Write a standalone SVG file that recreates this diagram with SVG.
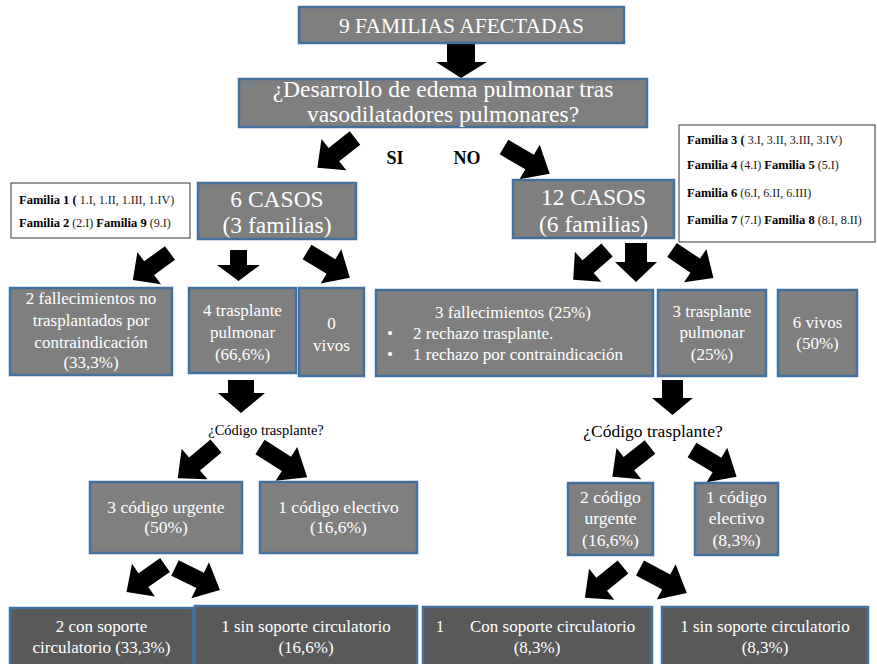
<svg xmlns="http://www.w3.org/2000/svg" xmlns:xlink="http://www.w3.org/1999/xlink" width="877" height="664" viewBox="0 0 877 664">
  <style>
    .box { fill: #7f7f7f; stroke: #41719c; stroke-width: 2.5; }
    .dark { fill: #595959; }
    .note { fill: #ffffff; stroke: #333333; stroke-width: 1; }
    text { font-family: 'Liberation Serif', 'DejaVu Serif', serif; }
    .t { fill: #ffffff; text-anchor: middle; }
    .t.s { text-anchor: start; }
    .k { fill: #000000; }
    .fam { fill: #1a1a1a; font-size: 12px; }
    .b { font-weight: bold; font-size: 12.5px; fill: #000000; }
    .arrow { fill: #000000; }
  </style>
  <defs>
    <!-- block arrow, tail centre at origin, tip at (50,0) -->
    <path id="da" d="M0,-8.5 H28 V-20 L50,0 L28,20 V8.5 H0 Z"/>
  </defs>

  <rect width="877" height="664" fill="#ffffff"/>

  <g id="connectors" class="arrow">
    <polygon points="447,44 475,44 475,62 487,62 461,78 436,62 447,62"/>
    <use xlink:href="#da" transform="translate(355,138) rotate(141.7) scale(0.96,1)"/>
    <use xlink:href="#da" transform="translate(504,147) rotate(30.4) scale(1.06,1)"/>
    <use xlink:href="#da" transform="translate(170,253) rotate(143.9) scale(0.92,1)"/>
    <polygon points="230,250 247,250 247,265 260,265 238.5,281 217,265 230,265"/>
    <use xlink:href="#da" transform="translate(307,252) rotate(31) scale(1,1)"/>
    <use xlink:href="#da" transform="translate(607,250) rotate(138.6) scale(0.9,1)"/>
    <polygon points="625,243 647,243 647,262 657,262 636,282 615,262 625,262"/>
    <use xlink:href="#da" transform="translate(672,250) rotate(34) scale(1,1)"/>
    <polygon points="228,380 254,380 254,393 265,393 241,413 218,393 228,393"/>
    <polygon points="662,380 683,380 683,398 693,398 672.5,415 652,398 662,398"/>
    <use xlink:href="#da" transform="translate(216,446) rotate(140) scale(1,1)"/>
    <use xlink:href="#da" transform="translate(260,447) rotate(32.6) scale(1.12,1)"/>
    <use xlink:href="#da" transform="translate(650,447) rotate(141.7) scale(0.96,1)"/>
    <use xlink:href="#da" transform="translate(692,450) rotate(31) scale(1.04,1)"/>
    <use xlink:href="#da" transform="translate(165,565) rotate(145) scale(0.94,1)"/>
    <use xlink:href="#da" transform="translate(175,568) rotate(26) scale(1,1)"/>
    <use xlink:href="#da" transform="translate(623,567) rotate(141) scale(0.98,1)"/>
    <use xlink:href="#da" transform="translate(640,568) rotate(28) scale(1.06,1)"/>
  </g>

  <g id="n-familias">
    <rect class="box" x="299" y="7" width="325" height="36"/>
    <text class="t" x="461.5" y="33" font-size="21.5">9 FAMILIAS AFECTADAS</text>
  </g>

  <g id="n-edema">
    <rect class="box" x="239" y="79" width="408" height="48"/>
    <text class="t" x="443" y="97" font-size="23.5">¿Desarrollo de edema pulmonar tras</text>
    <text class="t" x="443" y="122" font-size="23.5">vasodilatadores pulmonares?</text>
  </g>

  <g id="l-si-no" class="k" font-weight="bold" font-size="18" text-anchor="middle">
    <text x="395" y="164">SI</text>
    <text x="467" y="164">NO</text>
  </g>

  <g id="n-fam-si">
    <rect class="note" x="11" y="183" width="179" height="55"/>
    <text class="fam" x="19" y="204"><tspan class="b">Familia  1 (</tspan> 1.I,  1.II,  1.III,  1.IV)</text>
    <text class="fam" x="19" y="227"><tspan class="b">Familia  2</tspan> (2.I)  <tspan class="b">Familia  9</tspan> (9.I)</text>
  </g>

  <g id="n-6casos">
    <rect class="box" x="198" y="183" width="158" height="56"/>
    <text class="t" x="277" y="207" font-size="23.5">6 CASOS</text>
    <text class="t" x="277" y="233" font-size="23.5">(3 familias)</text>
  </g>

  <g id="n-12casos">
    <rect class="box" x="513" y="180" width="161" height="58"/>
    <text class="t" x="593.5" y="205" font-size="23.5">12 CASOS</text>
    <text class="t" x="593.5" y="232" font-size="23.5">(6 familias)</text>
  </g>

  <g id="n-fam-no">
    <rect class="note" x="679" y="125" width="196" height="117"/>
    <text class="fam" x="687" y="144"><tspan class="b">Familia  3 (</tspan> 3.I,  3.II,  3.III,  3.IV)</text>
    <text class="fam" x="687" y="169"><tspan class="b">Familia  4</tspan> (4.I)   <tspan class="b">Familia  5</tspan> (5.I)</text>
    <text class="fam" x="687" y="197"><tspan class="b">Familia  6</tspan> (6.I,  6.II,  6.III)</text>
    <text class="fam" x="687" y="224"><tspan class="b">Familia  7</tspan> (7.I)   <tspan class="b">Familia  8</tspan> (8.I,  8.II)</text>
  </g>

  <g id="n-fallec-si">
    <rect class="box" x="10" y="288" width="162" height="87"/>
    <text class="t" font-size="17" x="91" y="304">2 fallecimientos  no</text>
    <text class="t" font-size="17" x="91" y="326">trasplantados  por</text>
    <text class="t" font-size="17" x="91" y="348">contraindicación</text>
    <text class="t" font-size="17" x="91" y="368">(33,3%)</text>
  </g>

  <g id="n-trasp-si">
    <rect class="box" x="189" y="288" width="107" height="85"/>
    <text class="t" font-size="17" x="242.5" y="316">4 trasplante</text>
    <text class="t" font-size="17" x="242.5" y="338">pulmonar</text>
    <text class="t" font-size="17" x="242.5" y="360">(66,6%)</text>
  </g>

  <g id="n-vivos-si">
    <rect class="box" x="299" y="288" width="65" height="88"/>
    <text class="t" font-size="17" x="331.5" y="329">0</text>
    <text class="t" font-size="17" x="331.5" y="351">vivos</text>
  </g>

  <g id="n-fallec-no">
    <rect class="box" x="376" y="290" width="277" height="86"/>
    <text class="t" font-size="17" x="513" y="318">3 fallecimientos  (25%)</text>
    <text class="t" font-size="17" x="390" y="339">•</text>
    <text class="t s" font-size="17" x="413" y="339">2 rechazo trasplante.</text>
    <text class="t" font-size="17" x="390" y="360">•</text>
    <text class="t s" font-size="17" x="413" y="360">1 rechazo por contraindicación</text>
  </g>

  <g id="n-trasp-no">
    <rect class="box" x="658" y="290" width="108" height="86"/>
    <text class="t" font-size="17" x="712" y="317">3 trasplante</text>
    <text class="t" font-size="17" x="712" y="338">pulmonar</text>
    <text class="t" font-size="17" x="712" y="360">(25%)</text>
  </g>

  <g id="n-vivos-no">
    <rect class="box" x="778" y="290" width="79" height="86"/>
    <text class="t" font-size="17" x="817.5" y="328">6 vivos</text>
    <text class="t" font-size="17" x="817.5" y="349">(50%)</text>
  </g>

  <g id="l-codigo-si">
    <text class="k" x="266" y="435" font-size="14.5" text-anchor="middle">¿Código trasplante?</text>
  </g>
  <g id="l-codigo-no">
    <text class="k" x="653" y="437" font-size="17.5" text-anchor="middle">¿Código trasplante?</text>
  </g>

  <g id="n-urg-si">
    <rect class="box" x="90" y="482" width="152" height="71"/>
    <text class="t" font-size="17.5" x="166" y="513">3 código urgente</text>
    <text class="t" font-size="17.5" x="166" y="533">(50%)</text>
  </g>

  <g id="n-elec-si">
    <rect class="box" x="260" y="482" width="157" height="71"/>
    <text class="t" font-size="17.5" x="338.5" y="513">1 código  electivo</text>
    <text class="t" font-size="17.5" x="338.5" y="533">(16,6%)</text>
  </g>

  <g id="n-urg-no">
    <rect class="box" x="568" y="483" width="85" height="72"/>
    <text class="t" font-size="17.5" x="610.5" y="503">2 código</text>
    <text class="t" font-size="17.5" x="610.5" y="524">urgente</text>
    <text class="t" font-size="17.5" x="610.5" y="546">(16,6%)</text>
  </g>

  <g id="n-elec-no">
    <rect class="box" x="695" y="483" width="83" height="72"/>
    <text class="t" font-size="17.5" x="736.5" y="503">1 código</text>
    <text class="t" font-size="17.5" x="736.5" y="524">electivo</text>
    <text class="t" font-size="17.5" x="736.5" y="546">(8,3%)</text>
  </g>

  <g id="n-con-si">
    <rect class="box dark" x="10" y="608" width="183" height="64"/>
    <text class="t" font-size="17" x="101.5" y="632">2 con soporte</text>
    <text class="t" font-size="17" x="101.5" y="653">circulatorio  (33,3%)</text>
  </g>

  <g id="n-sin-si">
    <rect class="box dark" x="195" y="606" width="222" height="66"/>
    <text class="t" font-size="17" x="306" y="632">1 sin soporte circulatorio</text>
    <text class="t" font-size="17" x="306" y="653">(16,6%)</text>
  </g>

  <g id="n-con-no">
    <rect class="box dark" x="423" y="607" width="229" height="65"/>
    <text class="t" font-size="17" x="440" y="632">1</text>
    <text class="t s" font-size="17" x="470" y="632">Con soporte circulatorio</text>
    <text class="t" font-size="17" x="537" y="653">(8,3%)</text>
  </g>

  <g id="n-sin-no">
    <rect class="box dark" x="662" y="607" width="206" height="65"/>
    <text class="t" font-size="17" x="765" y="632">1 sin soporte circulatorio</text>
    <text class="t" font-size="17" x="765" y="653">(8,3%)</text>
  </g>
</svg>
